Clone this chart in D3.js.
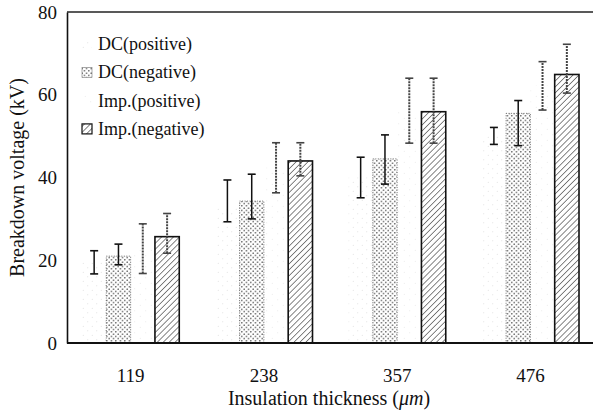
<!DOCTYPE html>
<html><head><meta charset="utf-8">
<script src="https://cdn.jsdelivr.net/npm/d3@7"></script>
<style>
body{margin:0;background:#fff;}
text{font-family:"Liberation Serif","Times New Roman",serif;fill:#111;}
</style></head>
<body><svg id="c" width="593" height="413"></svg>
<script>
const categories = ["119","238","357","476"];
const seriesNames = ["DC(positive)","DC(negative)","Imp.(positive)","Imp.(negative)"];
const dcPos = [19.5, 33.0, 40.0, 50.0];
const dcPosLow = [16.7, 29.3, 35.1, 48.0];
const dcPosHigh = [22.3, 39.4, 44.9, 52.1];
const dcNeg = [21.0, 34.3, 44.5, 55.5];
const dcNegLow = [18.9, 30.0, 38.4, 47.7];
const dcNegHigh = [23.9, 40.8, 50.3, 58.6];
const impPos = [22.8, 42.4, 56.1, 62.2];
const impPosLow = [16.8, 36.3, 48.3, 56.3];
const impPosHigh = [28.8, 48.4, 64.0, 68.0];
const impNeg = [25.7, 44.0, 55.9, 64.9];
const impNegLow = [21.7, 40.4, 48.3, 60.4];
const impNegHigh = [31.3, 48.4, 64.0, 72.2];
const yTicks = [0, 20, 40, 60, 80];

const values = [dcPos, dcNeg, impPos, impNeg];
const lows = [dcPosLow, dcNegLow, impPosLow, impNegLow];
const highs = [dcPosHigh, dcNegHigh, impPosHigh, impNegHigh];

const svg = d3.select("#c");
const defs = svg.append("defs");
function dotPattern(id, size, r, color){
  const p = defs.append("pattern").attr("id", id).attr("patternUnits","userSpaceOnUse")
    .attr("width", size).attr("height", size);
  p.append("circle").attr("cx", size/4).attr("cy", size/4).attr("r", r).attr("fill", color);
  p.append("circle").attr("cx", size*3/4).attr("cy", size*3/4).attr("r", r).attr("fill", color);
}
dotPattern("pDcNeg", 4.5, 0.75, "#222");
dotPattern("pDcPos", 9, 0.5, "#d8d8d8");
dotPattern("pImpPos", 11, 0.5, "#e4e4e4");
const h = defs.append("pattern").attr("id","pImpNeg").attr("patternUnits","userSpaceOnUse")
  .attr("width", 4.2).attr("height", 4.2).attr("patternTransform","rotate(45)");
h.append("line").attr("x1",0).attr("y1",0).attr("x2",0).attr("y2",4.2).attr("stroke","#222").attr("stroke-width",1.1);
const fills = ["url(#pDcPos)","url(#pDcNeg)","url(#pImpPos)","url(#pImpNeg)"];
const strokes = ["none","#555","none","#111"];
const strokeW = [0, 0.8, 0, 1.6];
const dash = [null, "1,1.5", null, null];
const ebColor = ["#111","#111","#444","#444"];
const ebDash = [null, null, "2,1", "2,1"];

const yTop = 12, yBot = 343, xLeft = 67;
const y = d3.scaleLinear().domain([0,80]).range([yBot, yTop]);
const x0 = d3.scaleBand().domain(categories).range([64, 597]).padding(0);
const x1 = d3.scaleBand().domain(seriesNames).range([0, x0.bandwidth()]).paddingInner(0).paddingOuter(0.74);

const g = svg.append("g");
seriesNames.forEach((s, si) => {
  g.selectAll(null).data(categories).enter().append("rect")
    .attr("x", c => x0(c) + x1(s))
    .attr("y", (c, i) => y(values[si][i]))
    .attr("width", x1.bandwidth())
    .attr("height", (c, i) => y(0) - y(values[si][i]))
    .attr("fill", fills[si])
    .attr("stroke", strokes[si])
    .attr("stroke-width", strokeW[si])
    .attr("stroke-dasharray", dash[si]);
});
seriesNames.forEach((s, si) => {
  const eg = g.append("g");
  categories.forEach((c, i) => {
    const cx = x0(c) + x1(s) + x1.bandwidth()/2;
    eg.append("line").attr("x1", cx).attr("x2", cx)
      .attr("y1", y(lows[si][i])).attr("y2", y(highs[si][i]))
      .attr("stroke", ebColor[si]).attr("stroke-width", si >= 2 ? 2 : 1.5)
      .attr("stroke-dasharray", ebDash[si]);
    [lows[si][i], highs[si][i]].forEach(v => {
      eg.append("line").attr("x1", cx - 4).attr("x2", cx + 4)
        .attr("y1", y(v)).attr("y2", y(v))
        .attr("stroke", ebColor[si]).attr("stroke-width", 1.6);
    });
  });
});

svg.append("line").attr("x1", xLeft).attr("x2", 593).attr("y1", yTop).attr("y2", yTop).attr("stroke","#222").attr("stroke-width",1.5);
svg.append("line").attr("x1", xLeft).attr("x2", 593).attr("y1", yBot).attr("y2", yBot).attr("stroke","#111").attr("stroke-width",1.8);

const ya = svg.append("g").attr("transform", `translate(${xLeft},0)`)
  .call(d3.axisLeft(y).tickValues(yTicks).tickSize(0).tickPadding(10));
ya.attr("font-family", null).style("font-family", "'Liberation Serif', serif");
ya.select(".domain").attr("stroke","#111").attr("stroke-width",1.6);
ya.selectAll("text").style("font-size","19px").style("font-family","'Liberation Serif', serif");

const xa = svg.append("g").attr("transform", `translate(0,${yBot})`)
  .call(d3.axisBottom(x0).tickSize(0).tickPadding(26));
xa.attr("font-family", null).style("font-family", "'Liberation Serif', serif");
xa.select(".domain").remove();
xa.selectAll("text").style("font-size","19px").style("font-family","'Liberation Serif', serif");

svg.append("text").attr("transform", `translate(24,${(yTop+yBot)/2}) rotate(-90)`)
  .attr("text-anchor","middle").style("font-size","20px").text("Breakdown voltage (kV)");
const xt = svg.append("text").attr("x", 329).attr("y", 405).attr("text-anchor","middle").style("font-size","20px");
xt.append("tspan").text("Insulation thickness (");
xt.append("tspan").attr("font-style","italic").text("μm");
xt.append("tspan").text(")");

const lg = svg.append("g");
seriesNames.forEach((s, si) => {
  const cy = 44 + si * 28.3;
  lg.append("rect").attr("x", 82).attr("y", cy - 5).attr("width", 10).attr("height", 10)
    .attr("fill", fills[si]).attr("stroke", si === 3 ? "#111" : (si === 1 ? "#777" : "none"))
    .attr("stroke-width", si === 3 ? 1.2 : 0.6);
  lg.append("text").attr("x", 98).attr("y", cy + 6).style("font-size","18px").text(s);
});
</script>
</body></html>
